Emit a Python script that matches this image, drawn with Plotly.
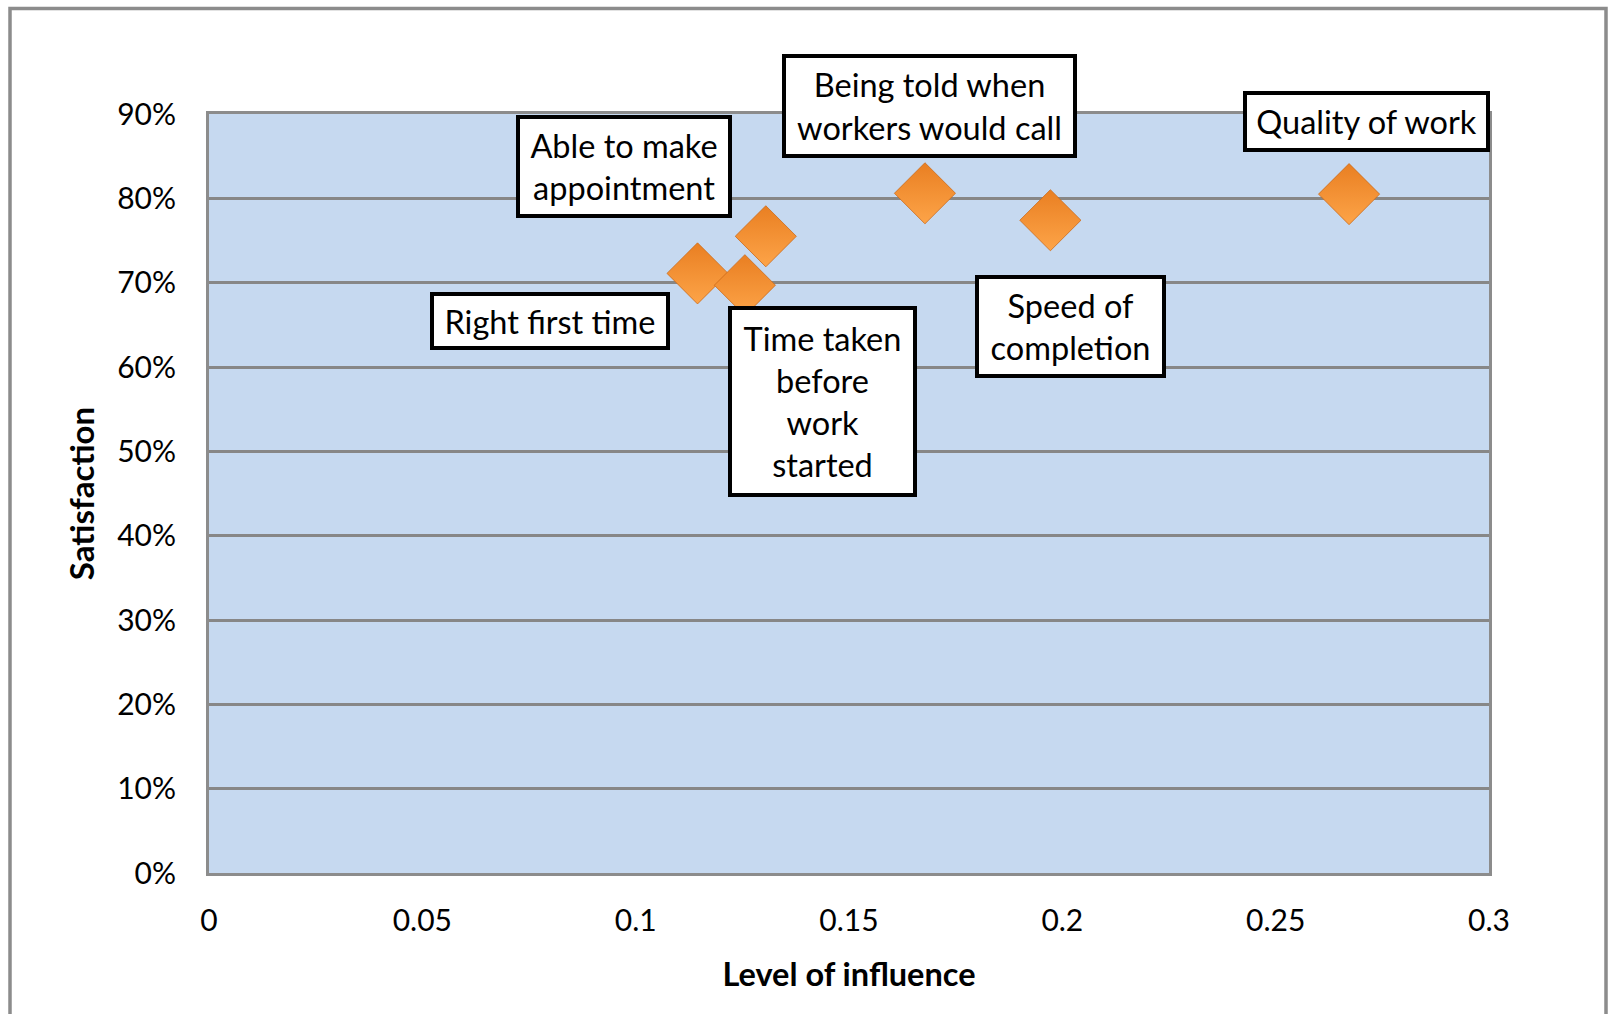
import plotly.graph_objects as go

# Drivers of satisfaction: level of influence vs. satisfaction score
labels = [
    "Right first time",
    "Time taken<br>before<br>work<br>started",
    "Able to make<br>appointment",
    "Being told when<br>workers would call",
    "Speed of<br>completion",
    "Quality of work",
]
influence = [0.1145, 0.1256, 0.1305, 0.1678, 0.1972, 0.2672]
satisfaction = [0.711, 0.697, 0.755, 0.806, 0.774, 0.805]

# label placement relative to each point (pixels) and box sizes
label_dx = [-148, 78, -142, 5, 20, 17]
label_dy = [-48, -116, 70, 87, -106, 73]
box_w = [240, 189, 216, 295, 191, 247]
box_h = [58, 191, 103, 104, 103, 61]

x_ticks = [0, 0.05, 0.1, 0.15, 0.2, 0.25, 0.3]
x_tick_text = ["0", "0.05", "0.1", "0.15", "0.2", "0.25", "0.3"]
y_ticks = [0, 0.1, 0.2, 0.3, 0.4, 0.5, 0.6, 0.7, 0.8, 0.9]

FONT = "Lato"
W, H = 1610, 1014
L, R, T, B = 209, 121, 114, 141

fig = go.Figure()
fig.add_trace(go.Scatter(
    x=influence,
    y=satisfaction,
    mode="markers",
    marker=dict(
        symbol="diamond",
        size=47,
        color="#E97F22",
        gradient=dict(type="vertical", color="#FDA448"),
        line=dict(color="#CC6A18", width=0.8),
    ),
    hoverinfo="x+y",
    showlegend=False,
))

BW, PAD = 4, 3
for txt, xv, yv, dx, dy, bw, bh in zip(labels, influence, satisfaction,
                                        label_dx, label_dy, box_w, box_h):
    fig.add_annotation(
        x=xv, y=yv, xref="x", yref="y",
        text=txt, showarrow=False,
        xshift=dx, yshift=dy,
        width=bw - 2 * (BW + PAD), height=bh - 2 * (BW + PAD),
        align="center", valign="middle",
        bgcolor="white", bordercolor="black",
        borderwidth=BW, borderpad=PAD,
        font=dict(family=FONT, size=32.5, color="black"),
    )

# outer chart frame
pw, ph = W - L - R, H - T - B
fig.add_shape(
    type="rect", xref="paper", yref="paper",
    x0=(10 - L) / pw, x1=(1606 - L) / pw,
    y0=(H - B - 1040) / ph, y1=(H - B - 8.5) / ph,
    line=dict(color="#8C8C8C", width=3.5),
    fillcolor="rgba(0,0,0,0)",
    layer="below",
)

fig.update_layout(
    width=W, height=H,
    margin=dict(l=L, r=R, t=T, b=B),
    paper_bgcolor="white",
    plot_bgcolor="#C6D9F0",
    font=dict(family=FONT, color="black"),
    showlegend=False,
)
fig.update_xaxes(
    range=[0, 0.3],
    tickvals=x_ticks, ticktext=x_tick_text,
    showgrid=False, zeroline=False,
    showline=True, mirror=True, linecolor="#8C8C8C", linewidth=3,
    ticks="", ticklabelstandoff=19,
    tickfont=dict(family=FONT, size=30),
    title=dict(text="<b>Level of influence</b>", font=dict(family=FONT, size=32.5), standoff=28),
)
fig.update_yaxes(
    range=[0, 0.9],
    tickvals=y_ticks, tickformat=".0%",
    showgrid=True, gridcolor="#878787", gridwidth=2.5,
    zeroline=False,
    showline=True, mirror=True, linecolor="#8C8C8C", linewidth=3,
    ticks="", ticklabelstandoff=24,
    tickfont=dict(family=FONT, size=30),
    title=dict(text="<b>Satisfaction</b>", font=dict(family=FONT, size=33), standoff=13),
)

fig.write_html("out.html")
